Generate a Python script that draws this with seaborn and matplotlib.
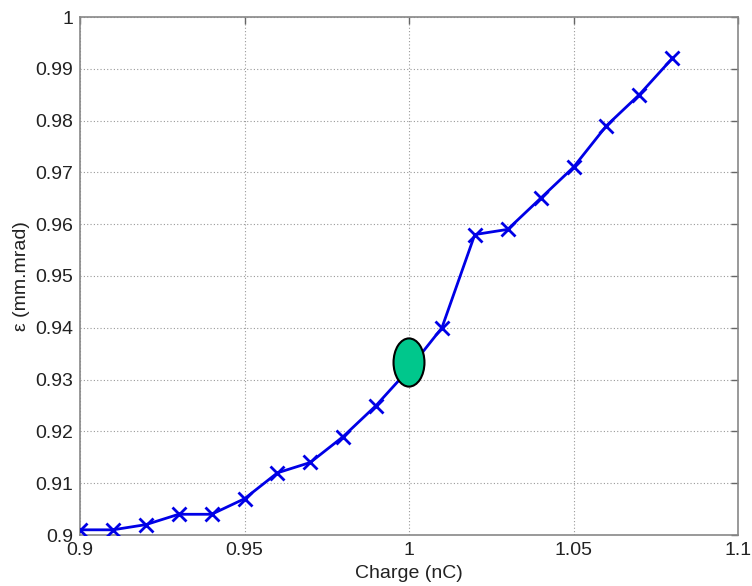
import matplotlib
matplotlib.use("Agg")
import matplotlib.pyplot as plt
import seaborn as sns
import numpy as np
import pandas as pd
from matplotlib.patches import Ellipse
from matplotlib.ticker import FuncFormatter

charge = [0.90, 0.91, 0.92, 0.93, 0.94, 0.95, 0.96, 0.97, 0.98, 0.99,
          1.00, 1.01, 1.02, 1.03, 1.04, 1.05, 1.06, 1.07, 1.08]
emittance = [0.901, 0.901, 0.902, 0.904, 0.904, 0.907, 0.912, 0.914, 0.919, 0.925,
             0.932, 0.940, 0.958, 0.959, 0.965, 0.971, 0.979, 0.985, 0.992]
highlight_x = 1.00
highlight_y = 0.9333
x_ticks = [0.9, 0.95, 1.0, 1.05, 1.1]
y_ticks = [0.9, 0.91, 0.92, 0.93, 0.94, 0.95, 0.96, 0.97, 0.98, 0.99, 1.0]

sns.set_style("white")
plt.rcParams['font.family'] = ['Liberation Sans', 'DejaVu Sans']

fig = plt.figure(figsize=(7.52, 5.86), dpi=100)
ax = fig.add_axes([80/752, 51/586, 658/752, 518/586])

df = pd.DataFrame({"Charge": charge, "Emittance": emittance})
sns.lineplot(data=df, x="Charge", y="Emittance", ax=ax, color="#0000E6",
             linewidth=2, marker="x", markersize=10, markeredgewidth=2,
             markeredgecolor="#0000E6", zorder=3)

ax.add_patch(Ellipse((highlight_x, highlight_y), 0.0094, 0.0093,
                     facecolor="#00C78C", edgecolor="black", linewidth=1.5, zorder=4))

ax.set_xlim(0.9, 1.1)
ax.set_ylim(0.9, 1.0)
ax.set_xticks(x_ticks)
ax.set_yticks(y_ticks)
fmt = FuncFormatter(lambda v, p: f"{v:g}")
ax.xaxis.set_major_formatter(fmt)
ax.yaxis.set_major_formatter(fmt)
ax.grid(True, linestyle=(0, (1, 2)), color="#999999", linewidth=0.8)
ax.tick_params(direction="in", length=5, width=1, color="#666666",
               top=True, right=True, labelsize=14, pad=5, labelcolor="#222222")
for s in ax.spines.values():
    s.set_color("#888888")
    s.set_linewidth(1.2)
    s.set_visible(True)

ax.set_xlabel("Charge (nC)", fontsize=14, color="#222222")
ax.set_ylabel("ε (mm.mrad)", fontsize=14, color="#222222")
ax.xaxis.set_label_coords(0.5, -0.058)
ax.yaxis.set_label_coords(-0.076, 0.5)

fig.savefig("out.png", dpi=100)
